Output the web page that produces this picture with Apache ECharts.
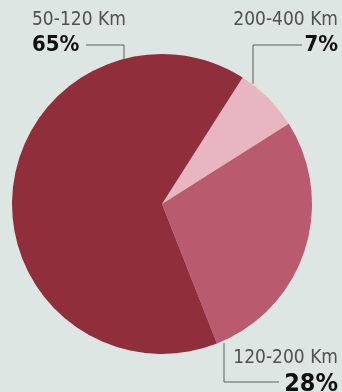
<!DOCTYPE html>
<html><head><meta charset="utf-8">
<script src="https://cdn.jsdelivr.net/npm/echarts@6/dist/echarts.min.js"></script>
<style>html,body{margin:0;padding:0;background:#dee6e3;}#c{width:342px;height:392px;}</style>
</head><body><div id="c"></div>
<script>
var categories = ['200-400 Km', '120-200 Km', '50-120 Km'];
var values = [7, 28, 65];
var colors = ['#e8b6c0', '#b95a6e', '#902e3c'];

var chart = echarts.init(document.getElementById('c'));
var fontFam = '"Liberation Sans Narrow","DejaVu Sans Condensed","Roboto",sans-serif';
var lineStyle = {stroke: '#5e5e5e', lineWidth: 1, fill: null};
function label(name, pct, x, y, align, pctSize) {
  return [
    {type: 'text', x: x, y: y, style: {text: name, font: '19px ' + fontFam, fill: '#505050', textAlign: align, textVerticalAlign: 'top'}},
    {type: 'text', x: x, y: y + 23, style: {text: pct + '%', font: 'bold ' + pctSize + 'px ' + fontFam, fill: '#111', textAlign: align, textVerticalAlign: 'top'}}
  ];
}
var graphics = []
  .concat(label(categories[2], values[2], 32, 11, 'left', 22))
  .concat(label(categories[0], values[0], 338, 11, 'right', 22))
  .concat(label(categories[1], values[1], 338, 349, 'right', 25))
  .concat([
    {type: 'polyline', shape: {points: [[86, 45], [124, 45], [124, 60]]}, style: lineStyle},
    {type: 'polyline', shape: {points: [[302, 45], [253, 45], [253, 84]]}, style: lineStyle},
    {type: 'polyline', shape: {points: [[224, 343], [224, 382], [279, 382]]}, style: lineStyle}
  ]);

chart.setOption({
  backgroundColor: '#dee6e3',
  animation: false,
  graphic: graphics,
  series: [{
    type: 'pie',
    center: [162, 204],
    radius: [0, 150],
    startAngle: 57.5,
    clockwise: true,
    label: {show: false},
    labelLine: {show: false},
    itemStyle: {borderWidth: 0},
    emphasis: {disabled: true},
    data: categories.map(function (c, i) { return {name: c, value: values[i], itemStyle: {color: colors[i]}}; })
  }]
});
</script></body></html>
